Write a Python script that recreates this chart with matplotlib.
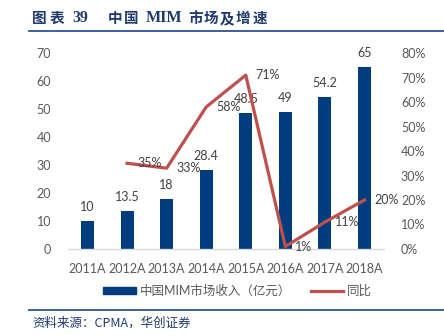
import matplotlib
matplotlib.use("Agg")
import matplotlib.pyplot as plt
from matplotlib.lines import Line2D
from matplotlib.patches import Patch

plt.rcParams['font.family'] = ['Lato', 'Noto Sans CJK SC', 'DejaVu Sans']

years = ["2011A", "2012A", "2013A", "2014A", "2015A", "2016A", "2017A", "2018A"]
revenue = [10, 13.5, 18, 28.4, 48.5, 49, 54.2, 65]
revenue_labels = ["10", "13.5", "18", "28.4", "48.5", "49", "54.2", "65"]
growth_years = years[1:]
growth = [35, 33, 58, 71, 1, 11, 20]
left_ticks = [0, 10, 20, 30, 40, 50, 60, 70]
right_ticks = [0, 10, 20, 30, 40, 50, 60, 70, 80]
title_parts = ["图", "表", "39", "中", "国", "MIM", "市", "场", "及", "增", "速"]
title_px = [32, 50, 72, 108, 124, 146, 188, 204, 220, 236, 253]

BAR = "#003C7E"
RED = "#C0504D"
GRAY = "#595959"
LBL = "#404040"
NAVY = "#1F3B6E"

W, H = 444, 336
fig = plt.figure(figsize=(W / 100, H / 100), dpi=100)
ax = fig.add_axes([0.1525, 0.259, 0.713, 0.583])
ax2 = ax.twinx()

x = list(range(len(years)))
ax.bar(x, revenue, width=0.33, color=BAR, zorder=2)
for xi, v, s in zip(x, revenue, revenue_labels):
    ax.annotate(s, (xi, v), xytext=(0, 14), textcoords='offset pixels',
                ha='center', va='center', fontsize=9, color=LBL)

ax.set_xlim(-0.5, len(years) - 0.5)
ax.set_ylim(0, 70)
ax.set_yticks(left_ticks)
ax.set_yticklabels([str(t) for t in left_ticks])
ax.set_xticks(x)
ax.set_xticklabels(years)
ax.tick_params(axis='both', length=0, labelsize=9, colors=GRAY)
ax.tick_params(axis='x', pad=10)
ax.tick_params(axis='y', pad=12)
for sp in ['top', 'left', 'right']:
    ax.spines[sp].set_visible(False)
ax.spines['bottom'].set_color('#D9D9D9')
ax.spines['bottom'].set_linewidth(1)

gx = [years.index(y) for y in growth_years]
ax2.plot(gx, growth, color=RED, lw=2.3, zorder=3)
for xi, g in zip(gx, growth):
    ax2.annotate(f"{g}%", (xi, g), xytext=(10, 0), textcoords='offset pixels',
                 ha='left', va='center', fontsize=9, color=LBL)
ax2.set_ylim(0, 80)
ax2.set_yticks(right_ticks)
ax2.set_yticklabels([f"{t}%" for t in right_ticks])
ax2.tick_params(axis='y', length=0, labelsize=9, colors=GRAY, pad=12)
for sp in ['top', 'left', 'right', 'bottom']:
    ax2.spines[sp].set_visible(False)

handles = [Patch(color=BAR), Line2D([0], [0], color=RED, lw=2.3)]
fig.legend(handles, ["中国MIM市场收入（亿元）", "同比"], loc='center',
           bbox_to_anchor=(0.535, 0.135), ncol=2, frameon=False, fontsize=9,
           labelcolor=GRAY, handlelength=2.6, handleheight=0.5,
           columnspacing=1.6, handletextpad=0.3)

for part, px in zip(title_parts, title_px):
    fam = ['Liberation Serif'] if part.isascii() else ['Noto Sans CJK SC']
    fs = 11.5 if part.isascii() else 10.5
    fig.text(px / W, 0.946, part, fontsize=fs, fontweight='bold', color=NAVY,
             va='center', ha='left', family=fam)
fig.add_artist(Line2D([0.066, 1.0], [0.908, 0.908], color="#2E5597", lw=1.3))
fig.add_artist(Line2D([0.066, 1.0], [0.078, 0.078], color="#2E5597", lw=1.3))
fig.text(0.072, 0.038, "资料来源：CPMA，华创证券", fontsize=9, style='italic',
         color=NAVY, va='center', ha='left',
         family=['Noto Sans CJK SC'])

fig.savefig("out.png", dpi=100)
